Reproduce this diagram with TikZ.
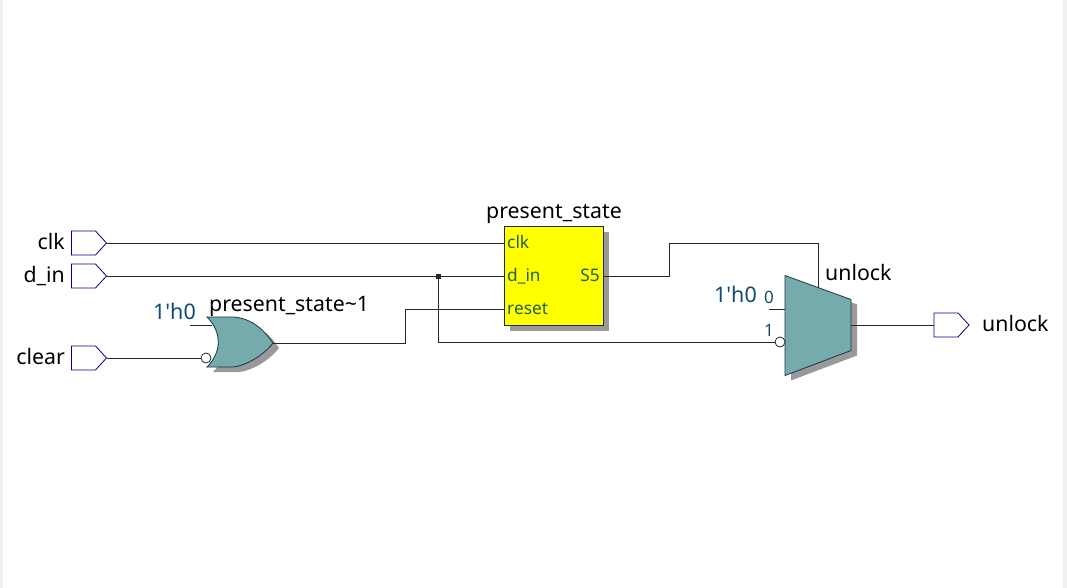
\documentclass[tikz,border=0pt]{standalone}
\usepackage{fontspec}
\setmainfont{Noto Sans}
\usetikzlibrary{shapes.symbols}
\definecolor{gatefill}{HTML}{76ABAE}
\definecolor{shade}{HTML}{999999}
\definecolor{wirecol}{HTML}{1F2A30}
\definecolor{bluetext}{HTML}{0F4C75}
\definecolor{innertext}{HTML}{1F5F4A}
\definecolor{portblue}{HTML}{00008B}
\definecolor{edgecol}{HTML}{F0F0F0}
\definecolor{regyellow}{HTML}{FFFF00}
\tikzset{
  wire/.style={draw=wirecol,line width=0.8pt},
  gateline/.style={draw=wirecol!70!bluetext,line width=0.8pt,fill=gatefill},
  shadowfill/.style={fill=shade,draw=none},
  portbox/.style={shape=signal,signal from=nowhere,signal to=east,signal pointer angle=95,draw=portblue,fill=white,line width=0.8pt,minimum width=35pt,minimum height=24pt,inner sep=0pt,outer sep=0pt},
  lbl/.style={font=\fontsize{21.3}{21.3}\selectfont,text=black,inner sep=0pt},
  constlbl/.style={font=\fontsize{21.5}{21.5}\selectfont,text=bluetext,inner sep=0pt},
  pinlbl/.style={font=\fontsize{17.3}{17.3}\selectfont,text=innertext,inner sep=0pt,anchor=base west},
  muxpin/.style={font=\fontsize{17}{17}\selectfont,text=bluetext,inner sep=0pt},
  bubble/.style={draw=wirecol,fill=white,line width=0.8pt},
  regbox/.style={draw=wirecol,fill=regyellow,line width=0.9pt,minimum width=99pt,minimum height=99pt,inner sep=0pt,outer sep=0pt}
}
\begin{document}
\begin{tikzpicture}[x=1pt,y=-1pt]
\useasboundingbox (0,0) rectangle (1067,588);
\fill[edgecol] (0,0) rectangle (3,588);
\fill[edgecol] (1063,0) rectangle (1067,588);
% ports
\node[portbox] (pclk) at (83.5,243) {};
\node[portbox] (pdin) at (83.5,276) {};
\node[portbox] (pclear) at (83.5,358) {};
\node[portbox] (pout) at (946,325) {};
\node[lbl,anchor=base east] (lclk) at (65,249.8) {clk};
\node[lbl,anchor=base east] (ldin) at (65,282.8) {d\_in};
\node[lbl,anchor=base east] (lclear) at (65,364.8) {clear};
\node[lbl,anchor=base west] (lout) at (982,331.5) {unlock};
% register
\fill[shadowfill] (510,232) rectangle (609,331);
\node[regbox] (reg) at (553.5,275.5) {};
\coordinate (regclk) at (504,243);
\coordinate (regdin) at (504,276);
\coordinate (regrst) at (504,309);
\coordinate (regq) at (603,276);
\node[lbl,anchor=base] (lreg) at (554,218.5) {present\_state};
\node[pinlbl] (tclk) at (507,248.7) {clk};
\node[pinlbl] (tdin) at (507,281.5) {d\_in};
\node[pinlbl] (treset) at (507,314) {reset};
\node[pinlbl,anchor=base east] (ts5) at (600,281.5) {S5};
% or gate
\coordinate (ortl) at (207,317);
\coordinate (orbl) at (207,367);
\coordinate (orout) at (273,343);
\coordinate (orc) at (212,325);
\coordinate (orn) at (206,358);
\coordinate (orstub) at (190,325);
\fill[shadowfill] (213,322) -- (239,322) .. controls (258,323) and (271,336) .. (279,348) .. controls (269,361) and (251,371) .. (239,372) -- (213,372) .. controls (228,357) and (228,337) .. (213,322) -- cycle;
\path[gateline] (ortl) -- (233,317) .. controls (252,318) and (265,331) .. (orout) .. controls (263,356) and (245,366) .. (233,367) -- (orbl) .. controls (222,352) and (222,332) .. (ortl) -- cycle;
\node[constlbl,anchor=base east] (orconst) at (196,319) {1\textquotesingle h0};
\node[lbl,anchor=base west] (lor) at (209,311.5) {present\_state\textasciitilde 1};
% mux
\coordinate (m1) at (785,275.5);
\coordinate (m2) at (851,299.5);
\coordinate (m3) at (851,350.5);
\coordinate (m4) at (785,375.5);
\coordinate (msel) at (818,287.5);
\coordinate (mout) at (851,325);
\coordinate (mzero) at (785,309);
\coordinate (mzstub) at (769,309);
\coordinate (mone) at (775,342);
\fill[shadowfill] (791,280.5) -- (857,304.5) -- (857,355.5) -- (791,380.5) -- cycle;
\path[gateline] (m1) -- (m2) -- (m3) -- (m4) -- cycle;
\node[constlbl,anchor=base east] (mconst) at (757,302.5) {1\textquotesingle h0};
\node[muxpin,anchor=base] (m0t) at (769,303) {0};
\node[muxpin,anchor=base] (m1t) at (769,336) {1};
\node[lbl,anchor=base west] (lmux) at (825,280.5) {unlock};
% wires
\coordinate (junc) at (438.5,276);
\draw[wire] (pclk.east) -- (regclk);
\draw[wire] (pdin.east) -- (regdin);
\draw[wire] (pclear.east) -- (orn);
\draw[wire] (orstub) -- (orc);
\draw[wire] (orout) -- (405,343) -- (405,309) -- (regrst);
\draw[wire] (regq) -- (669.5,276) -- (669.5,243) -- (818,243) -- (msel);
\draw[wire] (junc) -- (438.5,342) -- (mone);
\draw[wire] (mzstub) -- (mzero);
\draw[wire] (mout) -- (pout.west);
\fill[wirecol] (436,273.5) rectangle (441,278.5);
\draw[bubble] (orn) circle (5);
\draw[bubble] (780,342) circle (5);
\end{tikzpicture}
\end{document}
